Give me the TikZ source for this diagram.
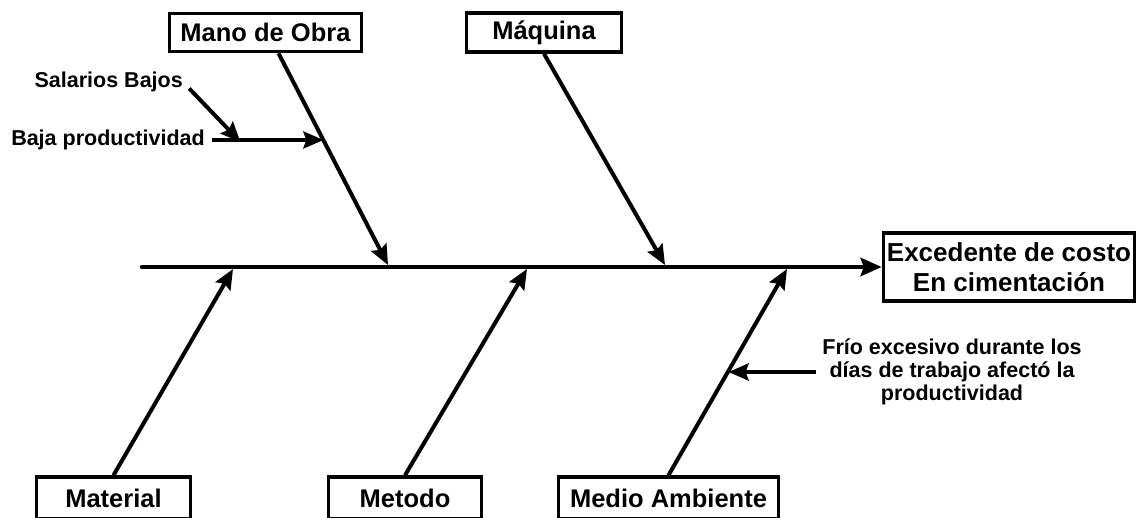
\documentclass[tikz,border=0pt]{standalone}
\usepackage{fontspec}
\setmainfont{Liberation Sans}
\usetikzlibrary{arrows.meta}
\begin{document}
\begin{tikzpicture}[x=1pt,y=-1pt,
  cause/.style={draw, line width=3.5pt, fill=white, inner sep=0pt, font=\bfseries\fontsize{25.5}{30}\selectfont},
  bone/.style={line width=4pt, -{Stealth[length=20pt,width=17pt,inset=3pt]}},
  spine/.style={line width=4.5pt, line cap=round, -{Stealth[length=21pt,width=18pt,inset=3pt]}},
  sublabel/.style={font=\bfseries\fontsize{21.5}{23}\selectfont, inner sep=0pt},
]
\useasboundingbox (0,0) rectangle (1138,517);
% boxes
\node[cause, minimum width=192pt, minimum height=38pt] (mano) at (265.5,32.5) {Mano de Obra};
\node[cause, minimum width=155pt, minimum height=39pt] (maq) at (544,32.5) {Máquina};
\node[cause, minimum width=251pt, minimum height=68pt, align=center, font=\bfseries\fontsize{26}{30}\selectfont] (efecto) at (1009,267) {Excedente de costo\\En cimentación};
\node[cause, minimum width=154pt, minimum height=42pt] (mat) at (113.5,498) {Material};
\node[cause, minimum width=153pt, minimum height=42pt] (met) at (405,498) {Metodo};
\node[cause, minimum width=220pt, minimum height=42pt] (med) at (668.5,498) {Medio Ambiente};
% spine
\coordinate (tail) at (142,267);
\draw[spine] (tail) -- (efecto.west);
% tips on spine
\coordinate (t1) at (388,265);
\coordinate (t2) at (665,265);
\coordinate (b1) at (233,269);
\coordinate (b2) at (527,269);
\coordinate (b3) at (787,269);
\coordinate (mtop) at ([xshift=13pt]mano.south);
% bones
\draw[bone] (mtop) -- (t1);
\draw[bone] (maq.south) -- (t2);
\draw[bone] (mat.north) -- (b1);
\draw[bone] (met.north) -- (b2);
\draw[bone] (med.north) -- (b3);
% sub causes
\node[sublabel, anchor=east] (baja) at (205,140) {Baja productividad};
\node[sublabel, anchor=east] (sal) at (183,82) {Salarios Bajos};
\path (mtop) -- (t1) coordinate[pos=0.41] (m1);
\draw[bone, shorten <=7pt] (baja.east) -- (baja.east -| m1);
\path (baja.east) -- (m1) coordinate[pos=0.30] (s1);
\draw[bone, shorten <=9pt] (sal.east) -- ([yshift=-2pt]s1);
\node[sublabel, align=center, inner sep=0pt] (frio) at (952,372) {Frío excesivo durante los\\días de trabajo afectó la\\productividad};
\path (med.north) -- (b3) coordinate[pos=0.507] (f1);
\draw[bone, shorten <=6pt] (frio.west) -- (frio.west -| f1);
\end{tikzpicture}
\end{document}
